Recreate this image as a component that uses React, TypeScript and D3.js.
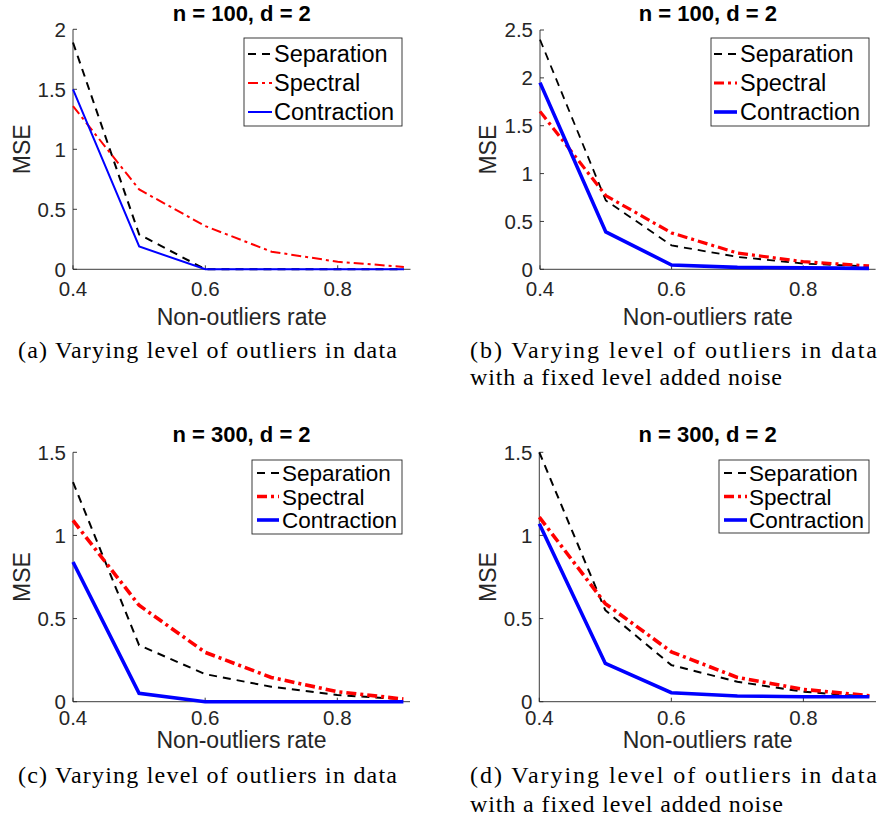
import React from 'react';
import * as d3 from 'd3';

// x values (non-outliers rate)
const rates = [0.4, 0.5, 0.6, 0.7, 0.8, 0.9];

// panel (a)
const sepA = [1.89, 0.29, 0, 0, 0, 0];
const specA = [1.36, 0.665, 0.36, 0.147, 0.063, 0.02];
const conA = [1.5, 0.19, 0, 0, 0, 0];

// panel (b)
const sepB = [2.4, 0.72, 0.25, 0.13, 0.06, 0.03];
const specB = [1.65, 0.77, 0.38, 0.17, 0.08, 0.035];
const conB = [1.95, 0.39, 0.045, 0.02, 0.015, 0.01];

// panel (c)
const sepC = [1.32, 0.34, 0.166, 0.09, 0.04, 0.015];
const specC = [1.09, 0.58, 0.297, 0.146, 0.06, 0.016];
const conC = [0.84, 0.05, 0, 0, 0, 0];

// panel (d)
const sepD = [1.5, 0.55, 0.22, 0.12, 0.06, 0.03];
const specD = [1.11, 0.59, 0.3, 0.146, 0.074, 0.036];
const conD = [1.07, 0.23, 0.054, 0.034, 0.03, 0.03];

const xTicks = [0.4, 0.6, 0.8];
const yTicksTop = [[0, 0.5, 1, 1.5, 2], [0, 0.5, 1, 1.5, 2, 2.5]];
const yTicksBottom = [0, 0.5, 1, 1.5];

const seriesNames = ['Separation', 'Spectral', 'Contraction'];
const titles = ['n = 100, d = 2', 'n = 100, d = 2', 'n = 300, d = 2', 'n = 300, d = 2'];
const captionA = '(a) Varying level of outliers in data';
const captionC = '(c) Varying level of outliers in data';
const captionB1 = '(b) Varying level of outliers in data';
const captionD1 = '(d) Varying level of outliers in data';
const captionLine2 = 'with a fixed level added noise';

const AX = '#262626';
const SANS = '"Liberation Sans", Arial, Helvetica, sans-serif';
const SERIF = '"Liberation Serif", "Times New Roman", serif';

const styles = [
  { color: '#000000', dash: '8,6' },
  { color: '#ff0000', dash: '10,4,3,4' },
  { color: '#0000ff', dash: null },
];

type PanelProps = {
  left: number;
  right: number;
  top: number;
  bottom: number;
  yMax: number;
  yTicks: number[];
  series: number[][];
  widths: number[];
  title: string;
  titleY: number;
  tickLabelY: number;
  xLabelY: number;
  mseX: number;
  legendFont: number;
  legend: { x: number; y: number; w: number; h: number; rows: number[]; sx0: number; sx1: number; tx: number };
};

const Panel = (p: PanelProps) => {
  const x = d3.scaleLinear().domain([0.4, 0.91]).range([p.left, p.right]);
  const y = d3.scaleLinear().domain([0, p.yMax]).range([p.bottom, p.top]);
  const line = d3
    .line<number>()
    .x((_, i) => x(rates[i]))
    .y((d) => y(d));
  const cx = (p.left + p.right) / 2;
  const cy = (p.top + p.bottom) / 2;
  const lg = p.legend;

  return (
    <g>
      <text x={cx} y={p.titleY} textAnchor="middle" fontFamily={SANS} fontWeight="bold" fontSize={22} fill="#000">
        {p.title}
      </text>

      {/* axes */}
      <line x1={p.left} x2={p.left} y1={p.top} y2={p.bottom} stroke={AX} strokeWidth={0.9} />
      <line x1={p.left} x2={p.right} y1={p.bottom} y2={p.bottom} stroke={AX} strokeWidth={0.9} />
      {p.yTicks.map((t) => (
        <g key={'y' + t}>
          <line x1={p.left} x2={p.left + 4} y1={y(t)} y2={y(t)} stroke={AX} strokeWidth={0.9} />
          <text x={p.left - 7} y={y(t)} dy="0.36em" textAnchor="end" fontFamily={SANS} fontSize={20.5} fill={AX}>
            {d3.format('~g')(t)}
          </text>
        </g>
      ))}
      {xTicks.map((t) => (
        <g key={'x' + t}>
          <line x1={x(t)} x2={x(t)} y1={p.bottom} y2={p.bottom - 4} stroke={AX} strokeWidth={0.9} />
          <text x={x(t)} y={p.tickLabelY} textAnchor="middle" fontFamily={SANS} fontSize={20.5} fill={AX}>
            {t.toFixed(1)}
          </text>
        </g>
      ))}
      <text x={cx} y={p.xLabelY} textAnchor="middle" fontFamily={SANS} fontSize={23} fill={AX}>
        Non-outliers rate
      </text>
      <text
        transform={`translate(${p.mseX},${cy}) rotate(-90)`}
        dy="0.36em"
        textAnchor="middle"
        fontFamily={SANS}
        fontSize={23}
        fill={AX}
      >
        MSE
      </text>

      {/* lines */}
      {p.series.map((s, i) => (
        <path
          key={'s' + i}
          d={line(s) || ''}
          fill="none"
          stroke={styles[i].color}
          strokeWidth={p.widths[i]}
          strokeDasharray={styles[i].dash || undefined}
        />
      ))}

      {/* legend */}
      <rect x={lg.x} y={lg.y} width={lg.w} height={lg.h} fill="#fff" stroke={AX} strokeWidth={0.9} />
      {seriesNames.map((name, i) => (
        <g key={name}>
          <line
            x1={lg.sx0}
            x2={lg.sx1}
            y1={lg.rows[i]}
            y2={lg.rows[i]}
            stroke={styles[i].color}
            strokeWidth={p.widths[i]}
            strokeDasharray={styles[i].dash || undefined}
          />
          <text x={lg.tx} y={lg.rows[i]} dy="0.36em" fontFamily={SANS} fontSize={p.legendFont} fill="#000">
            {name}
          </text>
        </g>
      ))}
    </g>
  );
};

const App = () => {
  return (
    <div style={{ position: 'absolute', left: 0, top: 0 }}>
      <svg width={881} height={821} style={{ display: 'block', background: '#fff' }}>
        <Panel
          left={73}
          right={410.5}
          top={29.3}
          bottom={269.3}
          yMax={2}
          yTicks={yTicksTop[0]}
          series={[sepA, specA, conA]}
          widths={[2, 2, 2]}
          title={titles[0]}
          titleY={21}
          tickLabelY={296}
          xLabelY={325}
          mseX={22}
          legendFont={23.5}
          legend={{ x: 244, y: 38, w: 158, h: 88, rows: [54, 83, 112], sx0: 248, sx1: 272, tx: 274 }}
        />
        <Panel
          left={540}
          right={875.6}
          top={30}
          bottom={269.3}
          yMax={2.5}
          yTicks={yTicksTop[1]}
          series={[sepB, specB, conB]}
          widths={[1.8, 3.2, 3.6]}
          title={titles[1]}
          titleY={21}
          tickLabelY={296}
          xLabelY={325}
          mseX={488}
          legendFont={23.5}
          legend={{ x: 711, y: 38, w: 158, h: 88, rows: [54, 83, 112], sx0: 714, sx1: 737, tx: 740 }}
        />
        <Panel
          left={73}
          right={410}
          top={452.3}
          bottom={701.7}
          yMax={1.5}
          yTicks={yTicksBottom}
          series={[sepC, specC, conC]}
          widths={[2, 3.6, 3.6]}
          title={titles[2]}
          titleY={442}
          tickLabelY={725}
          xLabelY={748}
          mseX={22}
          legendFont={22.5}
          legend={{ x: 252, y: 460, w: 150, h: 74, rows: [473, 496.5, 520], sx0: 257, sx1: 279, tx: 282 }}
        />
        <Panel
          left={539.3}
          right={876}
          top={452.3}
          bottom={701.7}
          yMax={1.5}
          yTicks={yTicksBottom}
          series={[sepD, specD, conD]}
          widths={[2, 3.6, 3.6]}
          title={titles[3]}
          titleY={442}
          tickLabelY={725}
          xLabelY={748}
          mseX={488}
          legendFont={22.5}
          legend={{ x: 719, y: 460, w: 150, h: 73, rows: [473, 496.5, 520], sx0: 724, sx1: 747, tx: 749 }}
        />

        {/* captions */}
        <g fontFamily={SERIF} fontSize={24} fill="#000">
          <text x={18} y={358} textLength={379} lengthAdjust="spacing">{captionA}</text>
          <text x={470} y={358} textLength={407} lengthAdjust="spacing">{captionB1}</text>
          <text x={470} y={385} textLength={312} lengthAdjust="spacing">{captionLine2}</text>
          <text x={18} y={783} textLength={379} lengthAdjust="spacing">{captionC}</text>
          <text x={470} y={783} textLength={407} lengthAdjust="spacing">{captionD1}</text>
          <text x={470} y={812} textLength={313} lengthAdjust="spacing">{captionLine2}</text>
        </g>
      </svg>
    </div>
  );
};

export default App;
